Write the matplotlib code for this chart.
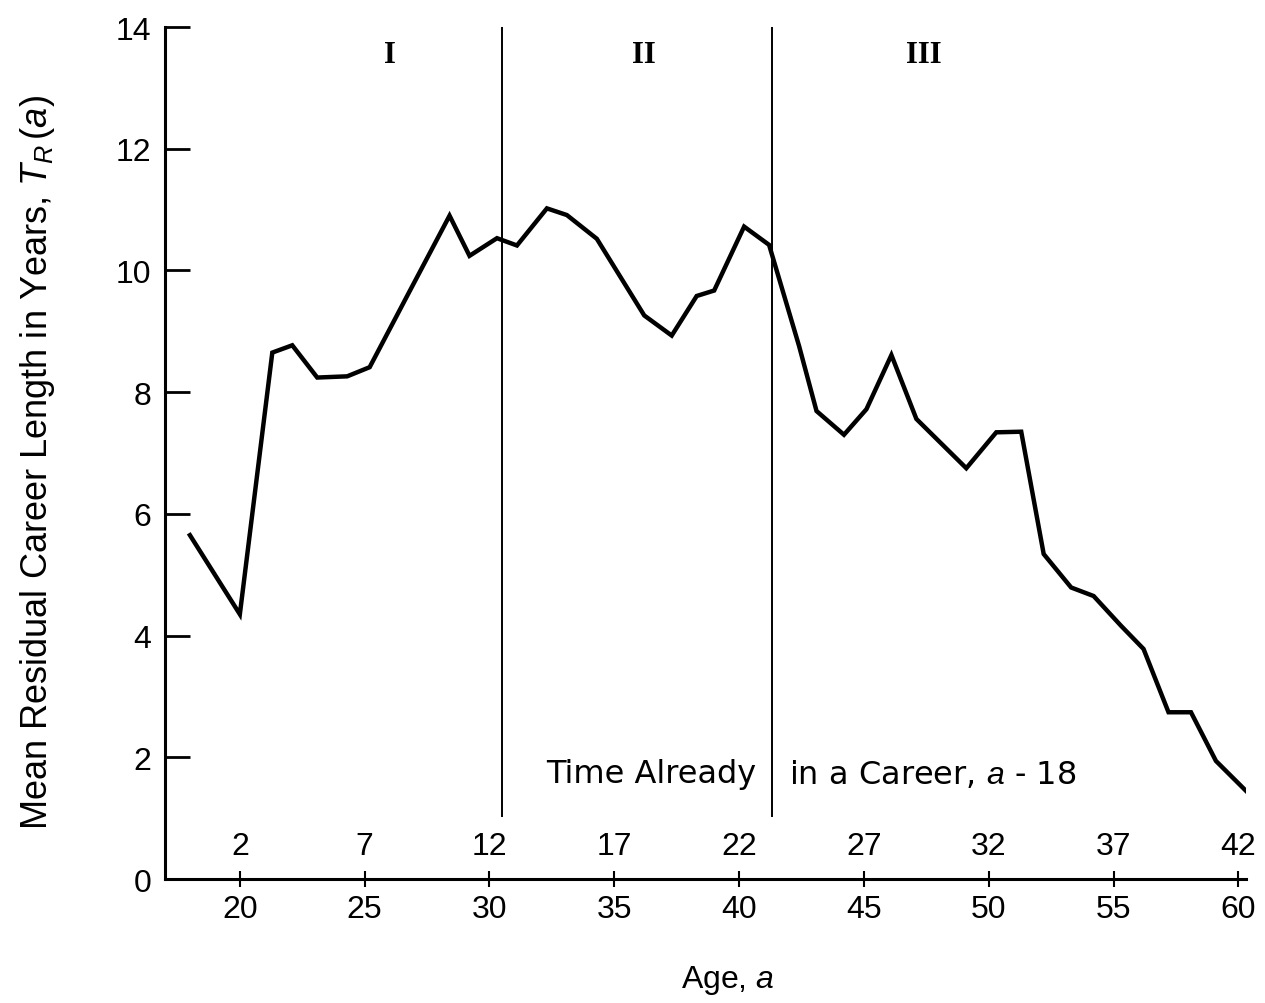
import matplotlib
matplotlib.use("Agg")
import matplotlib.pyplot as plt

# Data
age = [18.0, 20.0, 21.3, 22.1, 23.1, 24.3, 25.2, 26.7, 28.4, 29.2, 30.3, 31.1,
       32.3, 33.1, 34.3, 36.2, 37.3, 38.3, 39.0, 40.2, 41.2, 42.4, 43.1, 44.2,
       45.1, 46.1, 47.1, 49.1, 50.3, 51.3, 52.2, 53.3, 54.2, 55.3, 56.2, 57.2,
       58.1, 59.1, 60.3]
residual = [5.65, 4.35, 8.65, 8.77, 8.24, 8.26, 8.41, 9.58, 10.90, 10.24, 10.53, 10.41,
            11.02, 10.91, 10.52, 9.26, 8.93, 9.58, 9.67, 10.72, 10.42, 8.76, 7.69, 7.30,
            7.72, 8.61, 7.56, 6.75, 7.34, 7.35, 5.34, 4.79, 4.65, 4.16, 3.78, 2.74,
            2.74, 1.94, 1.45]

age_ticks = [20, 25, 30, 35, 40, 45, 50, 55, 60]
career_labels = [str(a - 18) for a in age_ticks]
y_ticks = [0, 2, 4, 6, 8, 10, 12, 14]
phase_bounds = [30.52, 41.3]
phase_names = ["I", "II", "III"]
phase_label_x = [26.0, 36.2, 47.4]

plt.rcParams['font.family'] = ['Liberation Sans', 'DejaVu Sans']
plt.rcParams['mathtext.fontset'] = 'custom'
plt.rcParams['mathtext.it'] = 'Liberation Sans:italic'
plt.rcParams['mathtext.rm'] = 'Liberation Sans'

FS = 23

fig = plt.figure(figsize=(12.65, 10.04), dpi=100)
ax = fig.add_axes([0.1304, 0.1235, 0.8545, 0.8486])

ax.plot(age, residual, color='black', lw=3.2, solid_joinstyle='miter')

for xb in phase_bounds:
    ax.vlines(xb, 1.02, 14, color='black', lw=1.4)

for name, xl in zip(phase_names, phase_label_x):
    ax.text(xl, 13.55, name, ha='center', va='center', fontsize=22,
            fontweight='bold', family=['Liberation Serif', 'DejaVu Serif'])

ax.set_xlim(17, 60.3)
ax.set_ylim(0, 14)

ax.spines['top'].set_visible(False)
ax.spines['right'].set_visible(False)
ax.spines['left'].set_linewidth(2.2)
ax.spines['bottom'].set_linewidth(2.2)

ax.set_yticks(y_ticks)
ax.set_yticklabels([str(v) for v in y_ticks], fontsize=FS)
ax.tick_params(axis='y', direction='in', length=18, width=2, pad=10)

ax.set_xticks(age_ticks)
ax.set_xticklabels([str(v) for v in age_ticks], fontsize=FS)
ax.tick_params(axis='x', direction='inout', length=12, width=1.5, pad=5)

# career-time labels above the axis
for a, lab in zip(age_ticks, career_labels):
    ax.text(a, 0.55, lab, ha='center', va='center', fontsize=FS)

ax.text(40.68, 1.73, "Time Already", ha='right', va='center', fontsize=FS,
        family=['DejaVu Sans'])
ax.text(42.0, 1.73, "in a Career, $a$ - 18", ha='left', va='center', fontsize=FS,
        family=['DejaVu Sans'])

ax.set_xlabel("Age, $a$", fontsize=FS)
ax.xaxis.set_label_coords(0.521, -0.098)
ax.set_ylabel("Mean Residual Career Length in Years, $T_R\\,(a)$", fontsize=26)
ax.yaxis.set_label_coords(-0.1, 0.49)

fig.savefig("out.png", dpi=100)
